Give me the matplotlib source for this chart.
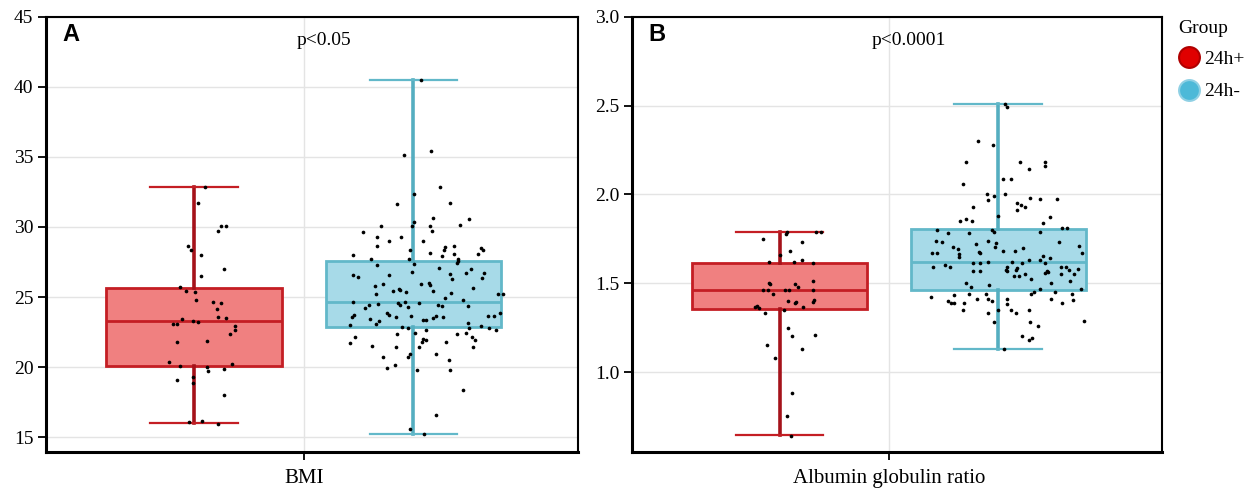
import matplotlib
matplotlib.use("Agg")
import matplotlib.pyplot as plt
from matplotlib.lines import Line2D

plt.rcParams['font.family'] = ['Liberation Serif', 'DejaVu Serif']

groups = ['24h+', '24h-']
panels = ['A', 'B']
variables = ['BMI', 'Albumin globulin ratio']
p_labels = ['p<0.05', 'p<0.0001']

# box stats: q1, median, q3, whisker low, whisker high
bmi_pos_stats = [20.11, 23.27, 25.67, 16.0, 32.83]
bmi_neg_stats = [22.85, 24.65, 27.6, 15.2, 40.5]
agr_pos_stats = [1.356, 1.461, 1.616, 0.643, 1.789]
agr_neg_stats = [1.461, 1.618, 1.807, 1.131, 2.51]

# individual points (value, jitter offset)
bmi_pos_vals = [32.83, 31.69, 29.69, 30.07, 30.07, 28.67, 28.36, 28.0, 26.53, 26.98,
                25.74, 25.43, 25.36, 24.77, 24.65, 24.56, 24.17, 23.56, 23.51, 23.42,
                23.32, 23.20, 23.10, 23.10, 22.96, 22.65, 22.39, 21.82, 21.87, 20.39,
                20.06, 20.04, 19.71, 19.89, 20.23, 19.09, 19.30, 18.85, 18.02, 16.09,
                16.16, 15.95]
bmi_pos_jit = [0.020, 0.008, 0.043, 0.049, 0.059, -0.012, -0.006, 0.013, 0.013, 0.054,
               -0.026, -0.014, 0.001, 0.004, 0.035, 0.049, 0.042, 0.043, 0.059, -0.022,
               -0.002, 0.008, -0.039, -0.031, 0.075, 0.074, 0.065, -0.032, 0.023, -0.046,
               -0.025, 0.023, 0.025, 0.054, 0.069, -0.031, -0.002, -0.002, 0.054, -0.010,
               0.014, 0.043]

bmi_neg_vals = [40.49, 35.42, 35.16, 32.83, 32.33, 31.62, 31.71, 30.64, 30.55, 30.33,
                30.09, 30.05, 30.09, 30.12, 29.67, 29.74, 29.31, 29.29, 29.0, 29.0,
                28.62, 28.57, 28.64, 28.36, 28.52, 28.38, 28.36, 28.02, 28.12, 28.05,
                27.95, 28.07, 27.74, 27.70, 27.72, 27.31, 27.36, 27.6, 27.41, 27.1,
                26.74, 26.98, 26.58, 26.43, 26.6, 26.79, 26.65, 26.27, 26.70, 26.34,
                25.79, 25.93, 25.93, 25.98, 25.86, 25.65, 25.41, 25.56, 25.49, 25.34,
                25.41, 25.24, 25.29, 25.24, 25.24, 24.92, 24.79, 24.67, 24.46, 24.49,
                24.56, 24.46, 24.65, 24.58, 24.46, 24.34, 24.20, 24.32, 24.34, 23.84,
                23.74, 23.74, 23.56, 23.58, 23.63, 23.39, 23.37, 23.49, 23.67, 23.58,
                23.44, 23.30, 23.06, 23.01, 22.89, 22.80, 23.63, 23.63, 23.87, 22.96,
                22.82, 22.65, 23.13, 22.82, 22.46, 22.67, 22.37, 22.35, 22.46, 22.18,
                21.75, 21.51, 21.44, 22.03, 21.92, 21.80, 21.44, 21.80, 22.13, 21.94,
                21.44, 20.96, 20.73, 20.75, 20.92, 20.51, 19.97, 20.14, 19.80, 19.80,
                18.37, 16.57, 15.57, 15.21]
bmi_neg_jit = [0.013, 0.032, -0.017, 0.049, 0.001, -0.030, 0.067, 0.036, 0.101, 0.001,
               -0.060, -0.002, 0.030, 0.084, -0.092, 0.034, -0.066, -0.023, -0.044, 0.017,
               -0.067, 0.058, 0.073, 0.056, 0.124, 0.127, -0.007, -0.110, 0.031, 0.073,
               0.052, 0.118, -0.078, -0.009, 0.082, -0.067, 0.001, 0.082, 0.079, 0.047,
               0.095, 0.104, -0.111, -0.101, -0.045, -0.003, 0.067, 0.070, 0.129, 0.125,
               -0.071, -0.056, 0.014, 0.028, 0.030, 0.109, -0.038, -0.027, -0.024, -0.013,
               0.036, -0.069, 0.069, 0.154, 0.163, 0.058, 0.090, -0.111, -0.081, -0.064,
               -0.028, -0.025, -0.015, 0.010, 0.044, 0.052, -0.089, -0.010, 0.099, -0.049,
               -0.045, -0.108, -0.112, -0.032, -0.004, 0.017, 0.023, 0.035, 0.041, 0.053,
               -0.079, -0.063, -0.069, -0.116, -0.021, -0.010, 0.136, 0.147, 0.157, 0.123,
               0.137, 0.151, 0.099, 0.102, 0.002, 0.022, -0.030, 0.079, 0.095, -0.106,
               -0.115, -0.076, -0.032, 0.018, 0.022, 0.016, 0.010, 0.059, 0.106, 0.112,
               0.109, -0.006, -0.010, -0.056, 0.042, 0.064, -0.049, -0.033, 0.006, 0.066,
               0.091, 0.041, -0.007, 0.019]

agr_pos_vals = [1.79, 1.787, 1.789, 1.749, 1.730, 1.779, 1.661, 1.680, 1.618, 1.618,
                1.628, 1.611, 1.502, 1.497, 1.493, 1.480, 1.511, 1.461, 1.461, 1.442,
                1.461, 1.461, 1.461, 1.396, 1.386, 1.401, 1.408, 1.393, 1.365, 1.360,
                1.373, 1.352, 1.367, 1.331, 1.249, 1.201, 1.210, 1.150, 1.131, 1.081,
                0.882, 0.751, 0.640]
agr_pos_jit = [0.013, 0.067, 0.076, -0.031, 0.041, 0.011, 0.001, 0.019, -0.019, 0.027,
               0.041, 0.061, -0.020, -0.018, 0.028, 0.034, 0.061, -0.031, -0.022, -0.012,
               0.010, 0.017, 0.062, 0.031, 0.029, 0.016, 0.064, 0.062, -0.044, -0.038,
               -0.041, 0.008, 0.043, -0.026, 0.015, 0.022, 0.065, -0.023, 0.041, -0.008,
               0.022, 0.013, 0.021]

agr_neg_vals = [2.509, 2.491, 2.30, 2.279, 2.180, 2.180, 2.180, 2.161, 2.140, 2.088,
                2.088, 2.060, 2.0, 1.991, 1.970, 2.0, 1.980, 1.972, 1.972, 1.952,
                1.938, 1.929, 1.910, 1.931, 1.880, 1.871, 1.839, 1.850, 1.860, 1.850,
                1.809, 1.809, 1.80, 1.80, 1.790, 1.781, 1.781, 1.789, 1.738, 1.730,
                1.738, 1.729, 1.719, 1.730, 1.712, 1.701, 1.691, 1.702, 1.682, 1.682,
                1.699, 1.678, 1.671, 1.671, 1.671, 1.663, 1.669, 1.652, 1.643, 1.648,
                1.629, 1.620, 1.611, 1.629, 1.611, 1.611, 1.611, 1.620, 1.601, 1.592,
                1.592, 1.592, 1.575, 1.566, 1.575, 1.583, 1.570, 1.570, 1.543, 1.543,
                1.553, 1.592, 1.592, 1.573, 1.553, 1.553, 1.579, 1.571, 1.564, 1.560,
                1.521, 1.510, 1.502, 1.502, 1.480, 1.491, 1.470, 1.470, 1.449, 1.440,
                1.449, 1.442, 1.420, 1.431, 1.442, 1.442, 1.401, 1.390, 1.390, 1.390,
                1.410, 1.410, 1.399, 1.410, 1.382, 1.351, 1.351, 1.351, 1.330, 1.351,
                1.410, 1.390, 1.408, 1.330, 1.281, 1.281, 1.261, 1.290, 1.201, 1.182,
                1.189, 1.131]
agr_neg_jit = [0.013, 0.017, -0.036, -0.010, -0.059, 0.041, 0.086, 0.086, 0.057, 0.009,
               0.023, -0.065, -0.021, -0.007, -0.018, 0.012, 0.059, 0.076, 0.108, 0.034,
               0.042, 0.049, 0.034, -0.045, -0.001, 0.095, 0.083, -0.069, -0.059, -0.047,
               0.117, 0.126, -0.112, -0.012, -0.008, -0.091, -0.053, 0.077, -0.114, -0.102,
               -0.019, -0.004, -0.041, 0.111, 0.149, -0.083, -0.074, -0.005, 0.009, 0.031,
               0.046, -0.035, -0.033, -0.121, -0.111, -0.071, 0.154, 0.082, 0.095, -0.071,
               0.056, 0.025, 0.043, 0.077, 0.086, -0.045, -0.034, -0.019, -0.098, -0.088,
               -0.120, 0.016, 0.014, 0.017, 0.032, 0.035, -0.045, -0.034, 0.029, 0.039,
               0.049, 0.115, 0.124, 0.129, 0.139, 0.116, 0.147, 0.089, 0.091, 0.086,
               0.061, 0.132, 0.097, -0.059, -0.049, -0.017, 0.152, 0.076, 0.066, 0.061,
               0.105, 0.135, -0.122, -0.081, -0.053, -0.023, -0.091, -0.086, -0.080, -0.063,
               -0.039, -0.018, -0.011, 0.017, 0.016, -0.064, -0.001, 0.024, 0.032, 0.056,
               0.097, 0.117, 0.137, -0.019, -0.008, 0.059, 0.073, 0.158, 0.044, 0.056,
               0.062, 0.011]

y_limits = [(13.95, 45), (0.55, 3.0)]
y_ticks = [[15, 20, 25, 30, 35, 40, 45], [1.0, 1.5, 2.0, 2.5, 3.0]]
y_fmt = ['{:.0f}', '{:.1f}']

red_fill, red_edge, red_dark = '#F08080', '#C41E24', '#A5121A'
blue_fill, blue_edge, blue_dark = '#A7DAE8', '#62B8C9', '#55AEC0'


def make_stats(s):
    return dict(q1=s[0], med=s[1], q3=s[2], whislo=s[3], whishi=s[4])


def draw_box(ax, stats, pos, fill, edge, dark):
    ax.bxp([make_stats(stats)], positions=[pos], widths=0.32, capwidths=0.16,
           patch_artist=True, showfliers=False,
           boxprops=dict(facecolor=fill, edgecolor=edge, linewidth=2),
           whiskerprops=dict(color=dark, linewidth=2.6),
           capprops=dict(color=edge, linewidth=1.6),
           medianprops=dict(color=edge, linewidth=2), zorder=2)


def draw_panel(ax, i, pos_stats, neg_stats, pos_vals, pos_jit, neg_vals, neg_jit):
    ax.set_axisbelow(True)
    ax.grid(True, color='#e4e4e4', linewidth=1)
    draw_box(ax, pos_stats, -0.2, red_fill, red_edge, red_dark)
    draw_box(ax, neg_stats, 0.2, blue_fill, blue_edge, blue_dark)
    ax.scatter([-0.2 + j for j in pos_jit], pos_vals, s=7, color='black', zorder=3, linewidths=0)
    ax.scatter([0.2 + j for j in neg_jit], neg_vals, s=7, color='black', zorder=3, linewidths=0)

    ax.set_xlim(-0.47, 0.50)
    ax.set_ylim(*y_limits[i])
    ax.set_xticks([0])
    ax.set_xticklabels([variables[i]], fontsize=15)
    ax.set_yticks(y_ticks[i])
    ax.set_yticklabels([y_fmt[i].format(t) for t in y_ticks[i]], fontsize=14)
    ax.tick_params(axis='both', direction='out', length=6, width=1.3, pad=3)
    ax.tick_params(axis='x', pad=6)
    for side in ['top', 'right']:
        ax.spines[side].set_linewidth(1.5)
    for side in ['left', 'bottom']:
        ax.spines[side].set_linewidth(2.2)

    ax.text(0.037, 0.946, p_labels[i], transform=ax.get_xaxis_transform(),
            ha='center', va='center', fontsize=14)
    ax.text(0.03, 0.958, panels[i], transform=ax.transAxes, ha='left', va='center',
            fontsize=17, fontweight='bold', family=['Liberation Sans', 'DejaVu Sans'])


fig = plt.figure(figsize=(12.5, 4.88), dpi=100)
ax1 = fig.add_axes([46 / 1250, 1 - 452 / 488, 532 / 1250, 435.3 / 488])
ax2 = fig.add_axes([632 / 1250, 1 - 452 / 488, 530 / 1250, 435.3 / 488])

draw_panel(ax1, 0, bmi_pos_stats, bmi_neg_stats, bmi_pos_vals, bmi_pos_jit, bmi_neg_vals, bmi_neg_jit)
draw_panel(ax2, 1, agr_pos_stats, agr_neg_stats, agr_pos_vals, agr_pos_jit, agr_neg_vals, agr_neg_jit)

handles = [Line2D([], [], marker='o', linestyle='', markersize=15,
                  markerfacecolor='#E00000', markeredgecolor='#B00000', markeredgewidth=1.5),
           Line2D([], [], marker='o', linestyle='', markersize=15,
                  markerfacecolor='#4DB9D8', markeredgecolor='#8FD0E4', markeredgewidth=1.5)]
leg = fig.legend(handles, groups, title='Group', loc='upper left',
                 bbox_to_anchor=(1170 / 1250, 1 - 12 / 488), frameon=False,
                 fontsize=14, title_fontsize=14, handletextpad=0.15,
                 labelspacing=0.75, handlelength=1.2, borderaxespad=0)
leg._legend_box.align = 'left'
leg._legend_box.sep = 10

fig.savefig('out.png', dpi=100)
